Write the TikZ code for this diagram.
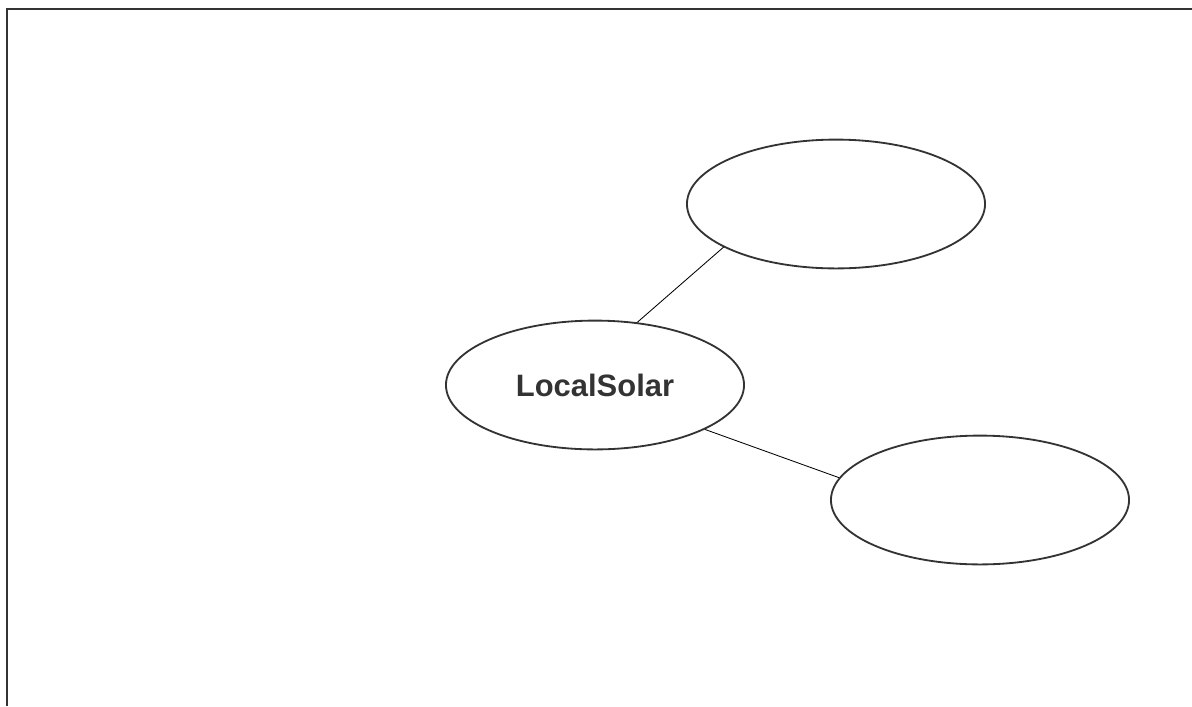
\documentclass[tikz,border=0pt]{standalone}
\usepackage{fontspec}
\setmainfont{Liberation Sans}
\usetikzlibrary{shapes.geometric}

\definecolor{inkgray}{HTML}{333333}

\begin{document}
\begin{tikzpicture}[x=0.025cm,y=-0.025cm,
    topic/.style={ellipse, draw=inkgray, line width=1.3pt, inner sep=0pt,
        minimum width=7.45cm, minimum height=3.22cm,
        text=inkgray, font=\fontsize{22}{26}\selectfont\bfseries},
    link/.style={draw=black, line width=0.6pt}]

% Page frame
\useasboundingbox (0,0) rectangle (1192,706);
\draw[inkgray, line width=2pt] (7,706) -- (7,9) -- (1192,9);

% Topics
\node[topic] (Solar) at (595,385) {LocalSolar};
\node[topic] (Upper) at (836,204) {};
\node[topic] (Lower) at (980,500) {};

% Links
\draw[link] (Solar.56) -- (Upper.201);
\draw[link] (Solar.-22) -- (Lower.171);

\end{tikzpicture}
\end{document}
